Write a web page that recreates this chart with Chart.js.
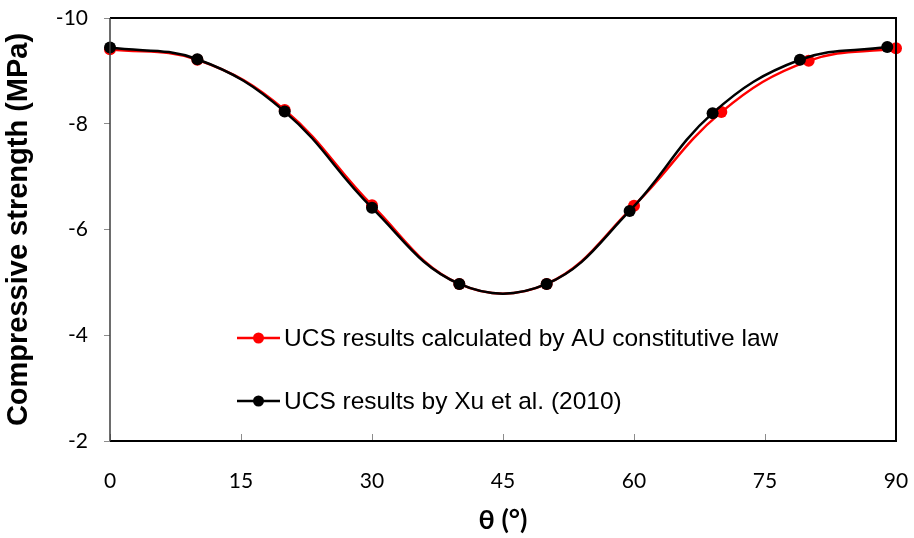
<!DOCTYPE html>
<html>
<head>
<meta charset="utf-8">
<script src="https://cdn.jsdelivr.net/npm/chart.js@4.4.1/dist/chart.umd.min.js"></script>
<style>
  html, body { margin: 0; padding: 0; background: #fff; }
  #wrap { width: 914px; height: 538px; }
</style>
</head>
<body>
<div id="wrap"><canvas id="ucsChart" width="914" height="538"></canvas></div>
<script>
// ángulos (°) y resistencias (MPa)
const auAngles = [0, 10, 20, 30, 40, 50, 60, 70, 80, 90];
const auUcs = [-9.41, -9.21, -8.26, -6.46, -4.97, -4.97, -6.45, -8.22, -9.19, -9.43];
const xuAngles = [0, 10, 20, 30, 40, 50, 59.5, 69, 79, 89];
const xuUcs = [-9.44, -9.22, -8.23, -6.41, -4.97, -4.97, -6.35, -8.20, -9.21, -9.45];

const xTicks = [0, 15, 30, 45, 60, 75, 90];
const yTicks = [-10, -8, -6, -4, -2];
const seriesNames = ['UCS results calculated by AU constitutive law', 'UCS results by Xu et al. (2010)'];

const toPoints = (xs, ys) => xs.map((x, i) => ({ x: x, y: ys[i] }));

// marco del área de gráfico + marcas interiores del eje x + leyenda
const framePlugin = {
  id: 'frame',
  afterDraw(chart) {
    const { ctx, chartArea: a, scales } = chart;
    ctx.save();
    // marcas del eje x hacia dentro
    ctx.strokeStyle = '#8c8c8c';
    ctx.lineWidth = 1;
    xTicks.forEach(v => {
      const px = Math.round(scales.x.getPixelForValue(v)) + 0.5;
      ctx.beginPath();
      ctx.moveTo(px, a.bottom);
      ctx.lineTo(px, a.bottom - 7);
      ctx.stroke();
    });
    // caja
    ctx.strokeStyle = '#000';
    ctx.lineWidth = 2;
    ctx.beginPath();
    ctx.moveTo(a.left, a.top);
    ctx.lineTo(a.right, a.top);
    ctx.lineTo(a.right, a.bottom);
    ctx.lineTo(a.left, a.bottom);
    ctx.stroke();
    ctx.strokeStyle = '#3c3c3c';
    ctx.lineWidth = 1.5;
    ctx.beginPath();
    ctx.moveTo(a.left, a.top);
    ctx.lineTo(a.left, a.bottom);
    ctx.stroke();

    // leyenda dentro del gráfico
    const rows = [338, 401];
    chart.data.datasets.forEach((ds, i) => {
      const y = rows[i];
      ctx.strokeStyle = ds.borderColor;
      ctx.lineWidth = 2.5;
      ctx.beginPath();
      ctx.moveTo(237, y);
      ctx.lineTo(280, y);
      ctx.stroke();
      ctx.fillStyle = ds.pointBackgroundColor;
      ctx.beginPath();
      ctx.arc(258.5, y, 5.5, 0, Math.PI * 2);
      ctx.fill();
      ctx.fillStyle = '#000';
      ctx.font = '24.5px "Liberation Sans", Arial, sans-serif';
      ctx.textBaseline = 'middle';
      ctx.textAlign = 'left';
      ctx.fillText(ds.label, 284, y + 1);
    });
    ctx.restore();
  }
};

new Chart(document.getElementById('ucsChart'), {
  type: 'line',
  data: {
    datasets: [
      {
        label: seriesNames[0],
        data: toPoints(auAngles, auUcs),
        borderColor: '#ff0000',
        backgroundColor: '#ff0000',
        pointBackgroundColor: '#ff0000',
        pointBorderColor: '#ff0000',
        borderWidth: 2.5,
        pointRadius: 6,
        pointBorderWidth: 0,
        tension: 0.4,
        clip: false,
        order: 2
      },
      {
        label: seriesNames[1],
        data: toPoints(xuAngles, xuUcs),
        borderColor: '#000000',
        backgroundColor: '#000000',
        pointBackgroundColor: '#000000',
        pointBorderColor: '#000000',
        borderWidth: 2.5,
        pointRadius: 6,
        pointBorderWidth: 0,
        tension: 0.4,
        clip: false,
        order: 1
      }
    ]
  },
  options: {
    responsive: false,
    animation: false,
    layout: {
      padding: { top: 18, right: 18, left: 0, bottom: 0 }
    },
    plugins: {
      legend: { display: false },
      tooltip: { enabled: false }
    },
    scales: {
      x: {
        type: 'linear',
        min: 0,
        max: 90,
        border: { display: false },
        grid: { display: false },
        afterBuildTicks: (scale) => {
          scale.ticks = xTicks.map(v => ({ value: v }));
        },
        afterFit: (scale) => {
          scale.height = 97;
          scale.paddingLeft = 0;
          scale.paddingRight = 0;
        },
        ticks: {
          padding: 20,
          color: '#000',
          font: { family: 'Lato', size: 21 }
        },
        title: {
          display: true,
          text: 'θ (°)',
          color: '#000',
          font: { family: 'Lato', size: 27, weight: 'bold' },
          padding: { top: 0, bottom: 2 }
        }
      },
      y: {
        type: 'linear',
        reverse: true,
        min: -10,
        max: -2,
        border: { display: false },
        grid: {
          drawOnChartArea: false,
          drawTicks: true,
          tickLength: 6,
          color: '#8c8c8c'
        },
        afterBuildTicks: (scale) => {
          scale.ticks = yTicks.map(v => ({ value: v }));
        },
        afterFit: (scale) => {
          scale.width = 110;
          scale.paddingTop = 0;
          scale.paddingBottom = 0;
        },
        ticks: {
          padding: 16,
          color: '#000',
          font: { family: 'Lato', size: 21 }
        },
        title: {
          display: true,
          text: 'Compressive strength (MPa)',
          color: '#000',
          font: { family: '"Liberation Sans", Arial, sans-serif', size: 29, weight: 'bold' },
          padding: { top: 2, bottom: 0 }
        }
      }
    }
  },
  plugins: [framePlugin]
});
</script>
</body>
</html>
